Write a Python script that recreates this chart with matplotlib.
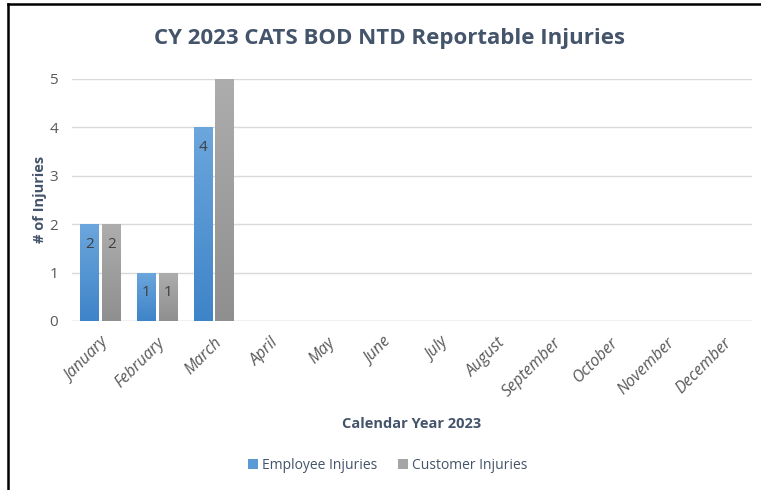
import numpy as np
import matplotlib.pyplot as plt
from matplotlib.patches import Patch
from matplotlib.lines import Line2D

months = ['January', 'February', 'March', 'April', 'May', 'June', 'July',
          'August', 'September', 'October', 'November', 'December']
employee = [2, 1, 4, 0, 0, 0, 0, 0, 0, 0, 0, 0]
customer = [2, 1, 5, 0, 0, 0, 0, 0, 0, 0, 0, 0]
# the March customer bar carries no data label in the original
customer_shown = [True, True, False] + [False] * 9

plt.rcParams['font.family'] = ['Open Sans', 'DejaVu Sans']

fig = plt.figure(figsize=(7.61, 4.9), dpi=100)
ax = fig.add_axes([0.0946, 0.345, 0.8935, 0.494])

x = np.arange(len(months))
w = 0.32
gap = 0.065

blue_grad = plt.matplotlib.colors.LinearSegmentedColormap.from_list('b', ['#3E84C8', '#6CA6DD'])
gray_grad = plt.matplotlib.colors.LinearSegmentedColormap.from_list('g', ['#8F8F8F', '#ADADAD'])
grad = np.linspace(0, 1, 256).reshape(-1, 1)


def gradient_bars(xs, vals, cmap, color):
    bars = ax.bar(xs, vals, w, color=color, zorder=2)
    for b in bars:
        if b.get_height() <= 0:
            continue
        x0, y0 = b.get_x(), b.get_y()
        im = ax.imshow(grad, cmap=cmap, origin='lower', aspect='auto',
                       extent=[x0, x0 + b.get_width(), y0, y0 + b.get_height()], zorder=3)
        im.set_clip_path(b)
    return bars


eb = gradient_bars(x - w / 2 - gap / 2, employee, blue_grad, '#5B9BD5')
cb = gradient_bars(x + w / 2 + gap / 2, customer, gray_grad, '#A5A5A5')

for b, v in zip(eb, employee):
    if v > 0:
        ax.text(b.get_x() + b.get_width() / 2, v - 0.42, str(v), ha='center', va='center',
                fontsize=11, color='#404040', zorder=4)
for b, v, s in zip(cb, customer, customer_shown):
    if v > 0 and s:
        ax.text(b.get_x() + b.get_width() / 2, v - 0.42, str(v), ha='center', va='center',
                fontsize=11, color='#404040', zorder=4)

ax.set_xlim(-0.5, 11.5)
ax.set_ylim(0, 5)
ax.set_yticks(range(6))
ax.yaxis.grid(True, color='#D9D9D9', linewidth=1)
ax.set_axisbelow(True)
for s in ['top', 'right', 'left', 'bottom']:
    ax.spines[s].set_visible(False)
ax.axhline(0, color='#D9D9D9', linewidth=1, zorder=1)
ax.tick_params(axis='y', length=0, labelsize=11, colors='#595959', pad=10)
ax.tick_params(axis='x', length=0, labelsize=11, colors='#595959', pad=10)
ax.set_xticks(x)
ax.set_xticklabels(months, rotation=45, ha='right', rotation_mode='anchor',
                   style='italic', fontsize=11.5)

ax.set_xlabel('Calendar Year 2023', fontsize=10.5, fontweight='bold', color='#44546A', labelpad=12)
ax.set_ylabel('# of Injuries', fontsize=10.5, fontweight='bold', color='#44546A', labelpad=2)

fig.text(0.512, 0.922, 'CY 2023 CATS BOD NTD Reportable Injuries', ha='center', va='center',
         fontsize=16, fontweight='bold', color='#44546A')

handles = [Patch(facecolor='#5B9BD5'), Patch(facecolor='#A5A5A5')]
fig.legend(handles, ['Employee Injuries', 'Customer Injuries'], loc='center',
           bbox_to_anchor=(0.51, 0.05), ncol=2, frameon=False, fontsize=10,
           labelcolor='#44546A', handlelength=0.7, handleheight=0.7, handletextpad=0.3,
           columnspacing=1.5)

# frame lines along the left and top edge
fig.add_artist(Line2D([0.0105, 0.0105], [0, 0.992], transform=fig.transFigure,
                      color='#000000', linewidth=1.8))
fig.add_artist(Line2D([0.0105, 1], [0.992, 0.992], transform=fig.transFigure,
                      color='#000000', linewidth=1.8))

fig.savefig('out.png', dpi=100)
